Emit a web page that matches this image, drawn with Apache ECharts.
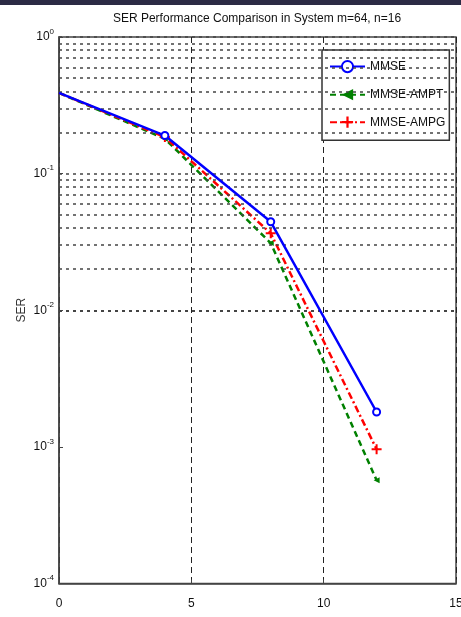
<!DOCTYPE html>
<html>
<head>
<meta charset="utf-8">
<script src="https://cdn.jsdelivr.net/npm/echarts@6/dist/echarts.min.js"></script>
<style>html,body{margin:0;padding:0;background:#fff;}#c{width:461px;height:617px;}</style>
</head>
<body>
<div id="c"></div>
<script>
const snr = [0, 4, 8, 12];
const mmse = [0.39, 0.19, 0.0444, 0.0018];
const ampt = [0.39, 0.18, 0.031, 0.00057];
const ampg = [0.39, 0.185, 0.0366, 0.00096];
const xTicks = [0, 5, 10, 15];
const yDecades = [1e-4, 1e-3, 1e-2, 1e-1, 1];
const minorMult = [2, 3, 4, 5, 6, 7, 8, 9];

const FONT = "'Liberation Sans Narrow', 'Arial Narrow', 'Liberation Sans', sans-serif";
const gridVals = [];
yDecades.forEach(d => { gridVals.push(d); if (d < 1) minorMult.forEach(m => gridVals.push(m * d)); });

const chart = echarts.init(document.getElementById('c'));
const pairs = arr => snr.map((x, i) => i === 0 ? { value: [x, arr[i]], symbol: 'none' } : [x, arr[i]]);
const plus = 'path://M4,0h2v4h4v2h-4v4h-2v-4h-4v-2h4z';

chart.setOption({
  animation: false,
  backgroundColor: '#fff',
  textStyle: { fontFamily: FONT },
  title: {
    text: 'SER Performance Comparison in System m=64, n=16',
    left: 252, textAlign: 'center', top: 8,
    textStyle: { fontFamily: FONT, fontSize: 12, fontWeight: 'normal', color: '#111' }
  },
  graphic: [{ type: 'rect', shape: { x: 0, y: 0, width: 461, height: 5 }, style: { fill: '#2c2b45' }, silent: true }],
  grid: { left: 59, right: 5, top: 37, bottom: 33.5, outerBoundsMode: 'none', containLabel: false, show: true, borderColor: '#444', borderWidth: 1.5, backgroundColor: '#fff' },
  legend: {
    orient: 'vertical', left: 322, top: 50,
    padding: [10, 4, 12, 7],
    itemGap: 15.5, itemWidth: 35, itemHeight: 14,
    borderColor: '#333', borderWidth: 1.5, backgroundColor: '#fff',
    textStyle: { fontFamily: FONT, fontSize: 12, color: '#111', width: 76, padding: [0, 0, 0, 0] },
    data: ['MMSE', 'MMSE-AMPT', 'MMSE-AMPG']
  },
  xAxis: {
    type: 'value', min: 0, max: 15, interval: 5,
    axisLine: { show: true, lineStyle: { color: '#444', width: 1.5 } },
    axisTick: { show: true, inside: true, length: 4, lineStyle: { color: '#444' } },
    axisLabel: { fontFamily: FONT, fontSize: 12, color: '#111', margin: 14 },
    splitLine: { show: true, lineStyle: { color: '#222', width: 1, type: [6, 4] } }
  },
  yAxis: {
    type: 'log', logBase: 10, min: 1e-4, max: 1,
    name: 'SER', nameLocation: 'middle', nameGap: 31, nameRotate: 90, nameMoveOverlap: false,
    nameTextStyle: { fontFamily: FONT, fontSize: 12, color: '#333' },
    axisLine: { show: true, lineStyle: { color: '#444', width: 1.5 } },
    axisTick: { show: true, inside: true, length: 4, lineStyle: { color: '#444' } },
    axisLabel: {
      margin: 5,
      formatter: v => '{b|10}{s|' + Math.round(Math.log10(v)) + '}',
      rich: {
        b: { fontFamily: FONT, fontSize: 12, color: '#111' },
        s: { fontFamily: FONT, fontSize: 8, color: '#111', padding: [0, 0, 11, 0] }
      }
    },
    splitLine: { show: false }
  },
  series: [
    {
      name: 'MMSE', type: 'line', data: pairs(mmse),
      symbol: 'emptyCircle', symbolSize: 7,
      itemStyle: { color: '#0000ff', borderWidth: 2 },
      lineStyle: { color: '#0000ff', width: 2.5, type: 'solid' },
      z: 5
    },
    {
      name: 'MMSE-AMPT', type: 'line', data: pairs(ampt),
      symbol: 'triangle', symbolRotate: 90, symbolSize: 6,
      itemStyle: { color: '#008000' },
      lineStyle: { color: '#008000', width: 2.5, type: [6, 4] },
      z: 3
    },
    {
      name: 'MMSE-AMPG', type: 'line', data: pairs(ampg),
      symbol: plus, symbolSize: 10,
      itemStyle: { color: '#ff0000' },
      lineStyle: { color: '#ff0000', width: 2.5, type: [7, 3, 2, 3] },
      z: 4
    },
    {
      name: 'grid', type: 'line', data: [], silent: true,
      markLine: {
        silent: true, symbol: 'none', animation: false,
        label: { show: false },
        lineStyle: { color: '#444', width: 1.5, type: [3, 4] },
        data: gridVals.map(v => ({ yAxis: v }))
      },
      z: 1
    }
  ]
});
</script>
</body>
</html>
